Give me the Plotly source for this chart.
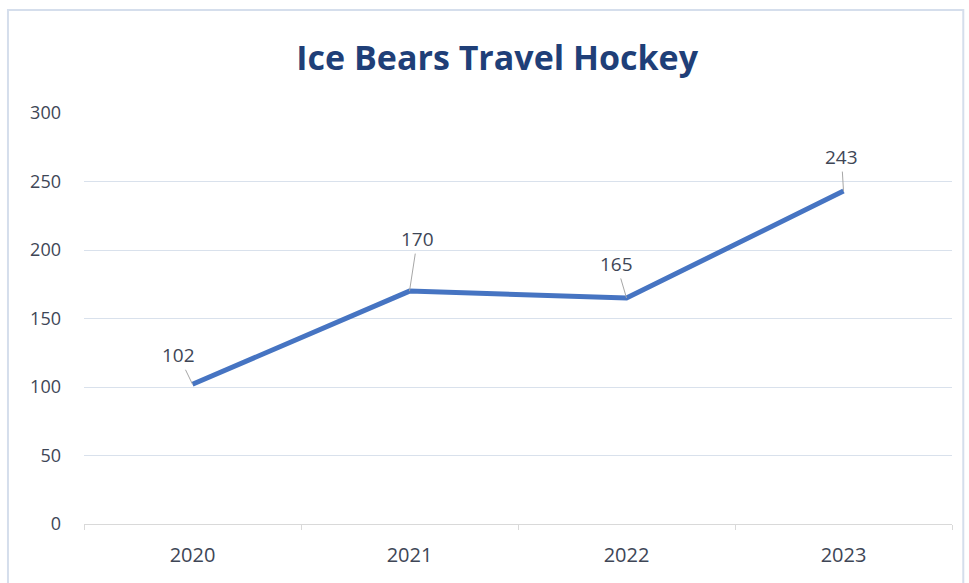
import plotly.graph_objects as go

# Season totals
years = ["2020", "2021", "2022", "2023"]
players = [102, 170, 165, 243]

# Label offsets (pixels) for the callout labels, one per point
label_dx = [-14, 8, -10, -2]
label_dy = [-29, -52, -34, -34]

y_ticks = [0, 50, 100, 150, 200, 250, 300]

LINE_BLUE = "#4674C2"
TEXT_GREY = "#3E4656"
TITLE_NAVY = "#1F3F78"
GRID = "#D9E1EC"
FONT = "Open Sans"

fig = go.Figure()

fig.add_trace(
    go.Scatter(
        x=years,
        y=players,
        mode="lines",
        line=dict(color=LINE_BLUE, width=5),
        hoverinfo="x+y",
        showlegend=False,
    )
)

# Callout labels with thin grey leader lines (x given as category index)
for i, (val, dx, dy) in enumerate(zip(players, label_dx, label_dy)):
    fig.add_annotation(
        x=i,
        y=val,
        xref="x",
        yref="y",
        text=str(val),
        showarrow=True,
        arrowhead=0,
        arrowwidth=1,
        arrowcolor="#A6A6A6",
        ax=dx,
        ay=dy,
        font=dict(family=FONT, size=19, color=TEXT_GREY),
    )

# Light outer chart frame
fig.add_shape(
    type="rect",
    xref="paper",
    yref="paper",
    x0=-0.0876,
    x1=1.013,
    y0=-0.2,
    y1=1.2506,
    line=dict(color="#D5DEEC", width=2),
    fillcolor="rgba(0,0,0,0)",
    layer="below",
)

fig.update_layout(
    width=969,
    height=583,
    margin=dict(l=84, r=17, t=113, b=59, autoexpand=False),
    paper_bgcolor="white",
    plot_bgcolor="white",
    title=dict(
        text="<b>Ice Bears Travel Hockey</b>",
        x=0.476,
        xanchor="center",
        xref="paper",
        y=0.9,
        yanchor="middle",
        font=dict(family=FONT, size=34, color=TITLE_NAVY),
    ),
    font=dict(family=FONT, color=TEXT_GREY),
    xaxis=dict(
        type="category",
        categoryorder="array",
        categoryarray=years,
        range=[-0.5, 3.5],
        automargin=False,
        tickangle=0,
        showgrid=False,
        showline=True,
        linecolor="#D9D9D9",
        linewidth=1,
        ticks="outside",
        tickson="boundaries",
        ticklen=5,
        tickcolor="#D9D9D9",
        tickfont=dict(family=FONT, size=20, color=TEXT_GREY),
        ticklabelstandoff=13,
        fixedrange=True,
    ),
    yaxis=dict(
        range=[0, 300],
        tickvals=y_ticks,
        automargin=False,
        showgrid=True,
        gridcolor=GRID,
        gridwidth=1,
        zeroline=False,
        showline=False,
        ticks="",
        tickfont=dict(family=FONT, size=18, color=TEXT_GREY),
        ticklabelstandoff=22,
        fixedrange=True,
    ),
)

fig.write_html("out.html")
